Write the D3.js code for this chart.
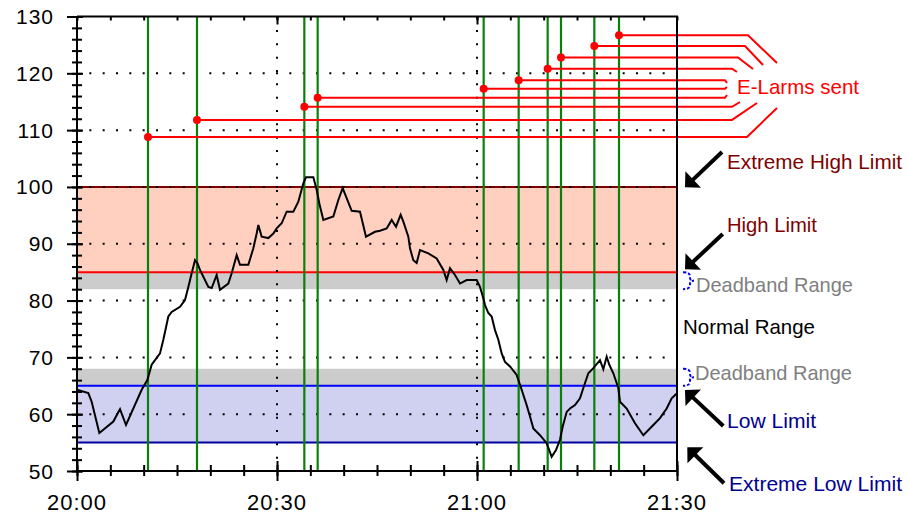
<!DOCTYPE html>
<html><head><meta charset="utf-8">
<script src="https://cdn.jsdelivr.net/npm/d3@7"></script>
<style>
html,body{margin:0;padding:0;background:#fff;}
svg text{font-family:"Liberation Sans",Arial,sans-serif;}
</style></head>
<body><svg id="c" width="908" height="514"></svg>
<script>
// ---- data ----
const minutes = [0,1.7,2.2,3.35,5.45,6.45,7.35,9.7,10.55,11.2,12.45,12.95,13.7,14.2,15.45,16.2,16.7,17.2,17.7,18.05,18.45,19.7,20.2,20.95,21.45,22.7,23.2,23.95,24.45,25.7,26.45,26.95,27.2,27.7,28.7,29.45,29.95,30.7,31.45,32.45,33.2,33.95,34.35,35.45,35.95,36.35,36.95,38.45,39.2,39.85,41.2,42.45,43.35,44.7,45.45,46.45,47.2,47.85,48.55,48.95,49.7,49.95,50.45,50.95,51.45,52.7,53.95,54.95,55.45,55.95,56.7,57.45,58.45,59.95,60.45,60.95,61.2,61.7,62.2,62.7,63.2,63.7,64.2,64.95,65.95,66.7,67.45,67.95,68.45,69.45,70.45,71.2,71.85,72.45,72.85,73.45,73.95,74.7,75.45,75.95,76.7,77.45,78.45,78.95,79.45,79.85,80.45,81.2,81.45,82.45,83.7,84.95,86.45,87.45,88.45,89.2,90];
const values = [64.3,63.7,62.2,56.7,58.7,60.9,58.1,64.3,66.0,68.7,70.7,73.1,77.2,78.0,78.9,80.1,82.4,84.8,87.1,86.6,85.4,82.4,82.2,84.5,81.9,83.0,84.8,88.0,86.3,86.3,89.2,91.8,93.3,91.25,91.0,91.8,92.7,93.6,95.65,95.65,97.4,100.65,101.7,101.7,99.5,97.1,94.2,94.8,97.7,99.8,95.8,95.65,91.25,92.1,92.3,92.7,94.2,93.0,95.1,93.9,91.25,89.2,87.1,86.6,88.9,88.3,87.4,85.4,83.6,85.7,84.5,83.0,83.6,83.6,82.4,80.4,79.2,77.8,77.2,74.8,73.1,70.7,69.2,68.4,66.9,64.3,61.6,59.6,57.5,56.3,54.9,52.5,53.7,55.5,57.8,60.4,61.0,61.6,62.8,64.6,67.2,68.1,69.5,67.9,70.1,68.7,67.2,64.6,62.2,61.0,58.4,56.3,58.1,59.3,61.0,62.8,63.7];
const alarmTimes  = [10.65,18.0,34.1,36.1,61.0,66.25,70.6,72.6,77.6,81.3];
const alarmLevels = [108.8,111.8,114.1,115.7,117.3,118.8,120.8,122.8,124.8,126.7];
const yTickLabels = [50,60,70,80,90,100,110,120,130];
const xTickMinutes = [0,30,60,90];
const xTickLabels = ["20:00","20:30","21:00","21:30"];
const gridValues = [60,70,80,90,100,110,120];
const gridMinutes = [30,60];
const extremeHigh = 100, highLimit = 85, highDeadband = 82;
const lowDeadband = 68, lowLimit = 65, extremeLow = 55;

// ---- layout ----
const svg = d3.select("#c");
const x = d3.scaleLinear().domain([0,90]).range([77,677]);
const y = d3.scaleLinear().domain([50,130]).range([471,16.5]);
const FONT = 21;

// bands
const bands = [
  {a:highLimit,b:extremeHigh,c:"#FFD0C0"},
  {a:highDeadband,b:highLimit,c:"#CCCCCC"},
  {a:lowLimit,b:lowDeadband,c:"#CCCCCC"},
  {a:extremeLow,b:lowLimit,c:"#D0D0F0"}
];
svg.selectAll("rect.band").data(bands).join("rect")
  .attr("x",x(0)).attr("width",x(90)-x(0))
  .attr("y",d=>y(d.b)).attr("height",d=>y(d.a)-y(d.b)).attr("fill",d=>d.c);

// limit lines
const limLines = [
  {v:extremeHigh,c:"#800000"},{v:highLimit,c:"#FF0000"},
  {v:lowLimit,c:"#0000FF"},{v:extremeLow,c:"#0000A0"}
];
svg.selectAll("line.lim").data(limLines).join("line")
  .attr("x1",x(0)).attr("x2",x(90)).attr("y1",d=>y(d.v)).attr("y2",d=>y(d.v))
  .attr("stroke",d=>d.c).attr("stroke-width",2);

// dotted grid
const dot = 40/3;
svg.selectAll("line.gh").data(gridValues).join("line")
  .attr("x1",x(0)+dot-1).attr("x2",x(90)).attr("y1",d=>y(d)).attr("y2",d=>y(d))
  .attr("stroke","#000").attr("stroke-width",2).attr("stroke-dasharray",`2 ${dot-2}`);
svg.selectAll("line.gv").data(gridMinutes).join("line")
  .attr("x1",d=>x(d)).attr("x2",d=>x(d)).attr("y1",y(50)-dot+1).attr("y2",y(130))
  .attr("stroke","#000").attr("stroke-width",2).attr("stroke-dasharray",`2 ${dot-2}`);

// green alarm verticals
svg.selectAll("line.al").data(alarmTimes).join("line")
  .attr("x1",d=>x(d)).attr("x2",d=>x(d)).attr("y1",y(130)).attr("y2",y(50))
  .attr("stroke","#0A800A").attr("stroke-width",2.2);

// data line
svg.append("path").datum(minutes.map((m,i)=>[m,values[i]]))
  .attr("d",d3.line().x(d=>x(d[0])).y(d=>y(d[1])))
  .attr("fill","none").attr("stroke","#000").attr("stroke-width",2).attr("stroke-linejoin","miter");

// E-Larm connectors (sorted top to bottom)
const idx = d3.range(alarmTimes.length).sort((a,b)=>alarmLevels[b]-alarmLevels[a]);
const hEnd = [748,745,738,732,725,725,725,732,732,747];
const dEnd = [[777,63],[763,65],[753,69],[737,72],[727,83],[727,87],[727,95],[740,102],[757,103],[777,108]];
const conn = idx.map((k,j)=>({t:alarmTimes[k],v:alarmLevels[k],h:hEnd[j],e:dEnd[j]}));
svg.selectAll("path.conn").data(conn).join("path")
  .attr("d",d=>`M${x(d.t)},${y(d.v)}H${d.h}L${d.e[0]},${d.e[1]}`)
  .attr("fill","none").attr("stroke","#FF0000").attr("stroke-width",2);
svg.selectAll("circle.ad").data(conn).join("circle")
  .attr("cx",d=>x(d.t)).attr("cy",d=>y(d.v)).attr("r",4).attr("fill","#FF0000");

// frame
svg.append("path").attr("d",`M${x(0)},${y(130)}H${x(90)}V${y(50)}`)
  .attr("fill","none").attr("stroke","#000").attr("stroke-width",2);

// axes
const minorY = d3.range(50,131,2);
const minorX = d3.range(0,91,5);
function clean(g){g.select(".domain").remove();g.selectAll("text").remove();g.selectAll("line").attr("stroke","#000").attr("stroke-width",2);}
svg.append("g").attr("transform","translate(82,0)")
  .call(d3.axisLeft(y).tickValues(minorY).tickSize(10)).call(clean);
svg.append("g").attr("transform","translate(83,0)")
  .call(d3.axisLeft(y).tickValues(yTickLabels).tickSize(16)).call(clean);
svg.append("g").attr("transform",`translate(0,476)`)
  .call(d3.axisTop(x).tickValues(minorX).tickSize(11)).call(clean);
svg.append("g").attr("transform",`translate(0,481)`)
  .call(d3.axisTop(x).tickValues(xTickMinutes).tickSize(20)).call(clean);
svg.append("g").attr("transform",`translate(0,${y(130)})`)
  .call(d3.axisBottom(x).tickValues(minorX).tickSize(4)).call(clean);
svg.append("g").attr("transform",`translate(0,${y(130)})`)
  .call(d3.axisBottom(x).tickValues([30,60]).tickSize(8)).call(clean);
svg.append("line").attr("x1",x(0)).attr("x2",x(0)).attr("y1",y(130)).attr("y2",y(50)+1)
  .attr("stroke","#000").attr("stroke-width",2);
svg.append("line").attr("x1",x(0)).attr("x2",x(90)).attr("y1",y(50)).attr("y2",y(50))
  .attr("stroke","#000").attr("stroke-width",2);

// axis labels
svg.selectAll("text.yl").data(yTickLabels).join("text")
  .attr("x",54).attr("y",d=>y(d)+7.5).attr("text-anchor","end")
  .attr("font-size",FONT).attr("letter-spacing",1).text(d=>d);
svg.selectAll("text.xl").data(xTickMinutes).join("text")
  .attr("x",d=>x(d)).attr("y",510).attr("text-anchor","middle")
  .attr("font-size",FONT+1).attr("letter-spacing",1).text((d,i)=>xTickLabels[i]);

// annotations
function label(t,xx,yy,len,col){
  svg.append("text").attr("x",xx).attr("y",yy).attr("font-size",FONT)
    .attr("textLength",len).attr("lengthAdjust","spacingAndGlyphs").attr("fill",col).text(t);
}
label("E-Larms sent",737,93.5,122,"#FF0000");
label("Extreme High Limit",727,169,175,"#800000");
label("High Limit",727,231.5,90,"#800000");
label("Deadband Range",696,291.5,157,"#808080");
label("Normal Range",683,334,132,"#000000");
label("Deadband Range",695,380,157,"#808080");
label("Low Limit",727,428,89,"#000090");
label("Extreme Low Limit",729,490.5,173,"#000090");

// arrows
const arrows = [
  {tail:[722,152],tip:[685,187.3]},
  {tail:[722.7,234],tip:[685,269.3]},
  {tail:[723.3,426],tip:[685,390]},
  {tail:[724,483.3],tip:[687.3,447.3]}
];
arrows.forEach(a=>{
  const ang = Math.atan2(a.tail[1]-a.tip[1],a.tail[0]-a.tip[0]);
  const L=16, p1=[a.tip[0]+L*Math.cos(ang+Math.PI/4),a.tip[1]+L*Math.sin(ang+Math.PI/4)],
        p2=[a.tip[0]+L*Math.cos(ang-Math.PI/4),a.tip[1]+L*Math.sin(ang-Math.PI/4)];
  const mid=[a.tip[0]+10*Math.cos(ang),a.tip[1]+10*Math.sin(ang)];
  svg.append("line").attr("x1",a.tail[0]).attr("y1",a.tail[1]).attr("x2",mid[0]).attr("y2",mid[1])
    .attr("stroke","#000").attr("stroke-width",4);
  svg.append("path").attr("d",`M${a.tip}L${p1}L${p2}Z`).attr("fill","#000");
});

// deadband braces
[[highDeadband,highLimit],[lowLimit,lowDeadband]].forEach(([lo,hi])=>{
  const t=y(hi), b=y(lo), m=(t+b)/2, x0=683, x1=694;
  svg.append("path")
    .attr("d",`M${x0},${t}Q${x0+7},${t} ${x0+7},${t+4}L${x0+7},${m-3}Q${x0+7},${m} ${x1},${m}Q${x0+7},${m} ${x0+7},${m+3}L${x0+7},${b-4}Q${x0+7},${b} ${x0},${b}`)
    .attr("fill","none").attr("stroke","#0000FF").attr("stroke-width",2).attr("stroke-dasharray","3 2");
});
</script></body></html>
